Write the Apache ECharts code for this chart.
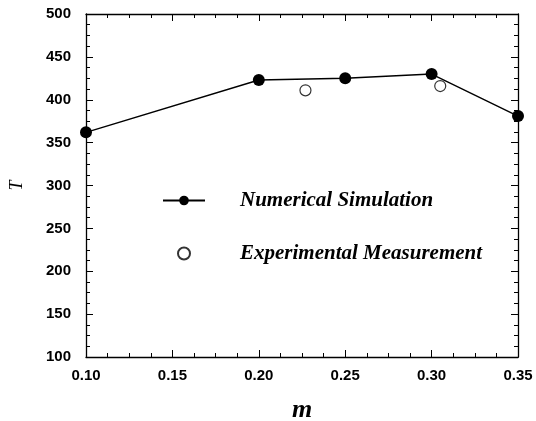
<!DOCTYPE html>
<html><head><meta charset="utf-8">
<script src="https://cdn.jsdelivr.net/npm/echarts@6/dist/echarts.min.js"></script>
<style>html,body{margin:0;padding:0;background:#fff}#c{width:536px;height:421px}</style>
</head><body><div id="c"></div>
<script>
var simM = [0.10, 0.20, 0.25, 0.30, 0.35];
var simT = [362, 423, 425, 430, 381];
var expM = [0.227, 0.305];
var expT = [411, 416];
var xTicks = [0.10, 0.15, 0.20, 0.25, 0.30, 0.35];
var yTicks = [100, 150, 200, 250, 300, 350, 400, 450, 500];
var seriesNames = ['Numerical Simulation', 'Experimental Measurement'];

function pairs(a, b) { return a.map(function (v, i) { return [v, b[i]]; }); }

var axisCommon = {
  axisLine: { show: true, lineStyle: { color: '#000', width: 1.3 } },
  axisTick: { show: true, inside: true, length: 7, lineStyle: { color: '#000', width: 1 } },
  minorTick: { show: true, splitNumber: 4, length: 4, lineStyle: { color: '#000', width: 1 } },
  splitLine: { show: false },
  minorSplitLine: { show: false }
};
var labelStyle = { color: '#000', fontFamily: 'Liberation Sans', fontWeight: 'bold', fontSize: 15 };

var chart = echarts.init(document.getElementById('c'));
chart.setOption({
  animation: false,
  backgroundColor: '#fff',
  grid: { left: 86, right: 18, top: 14, bottom: 64, containLabel: false, outerBoundsMode: 'none' },
  xAxis: [
    Object.assign({ type: 'value', min: 0.10, max: 0.35, interval: 0.05, position: 'bottom',
      name: 'm', nameLocation: 'middle', nameGap: 40,
      nameTextStyle: { color: '#000', fontFamily: 'Liberation Serif', fontStyle: 'italic', fontWeight: 'bold', fontSize: 26 },
      axisLabel: Object.assign({ margin: 11, formatter: function (v) { return v.toFixed(2); } }, labelStyle)
    }, axisCommon),
    Object.assign({ type: 'value', min: 0.10, max: 0.35, interval: 0.05, position: 'top',
      axisLabel: { show: false } }, axisCommon)
  ],
  yAxis: [
    Object.assign({ type: 'value', min: 100, max: 500, interval: 50, position: 'left',
      name: 'T', nameLocation: 'middle', nameGap: 60, nameRotate: 90,
      nameTextStyle: { color: '#000', fontFamily: 'Liberation Serif', fontStyle: 'italic', fontSize: 18 },
      axisLabel: Object.assign({ margin: 15 }, labelStyle)
    }, axisCommon),
    Object.assign({ type: 'value', min: 100, max: 500, interval: 50, position: 'right',
      axisLabel: { show: false } }, axisCommon)
  ],
  legend: {
    orient: 'vertical', left: 157, top: 185, itemGap: 32, itemWidth: 42, itemHeight: 12,
    data: seriesNames,
    textStyle: { color: '#000', fontFamily: 'Liberation Serif', fontStyle: 'italic', fontWeight: 'bold', fontSize: 21, padding: [0, 0, 0, 30] }
  },
  series: [
    { name: seriesNames[0], type: 'line', data: pairs(simM, simT), symbol: 'circle', symbolSize: 12,
      itemStyle: { color: '#000' }, lineStyle: { color: '#000', width: 1.4 } },
    { name: seriesNames[1], type: 'scatter', data: pairs(expM, expT), symbol: 'circle', symbolSize: 11,
      itemStyle: { color: '#fff', borderColor: '#000', borderWidth: 1.2 } }
  ]
});
</script></body></html>
